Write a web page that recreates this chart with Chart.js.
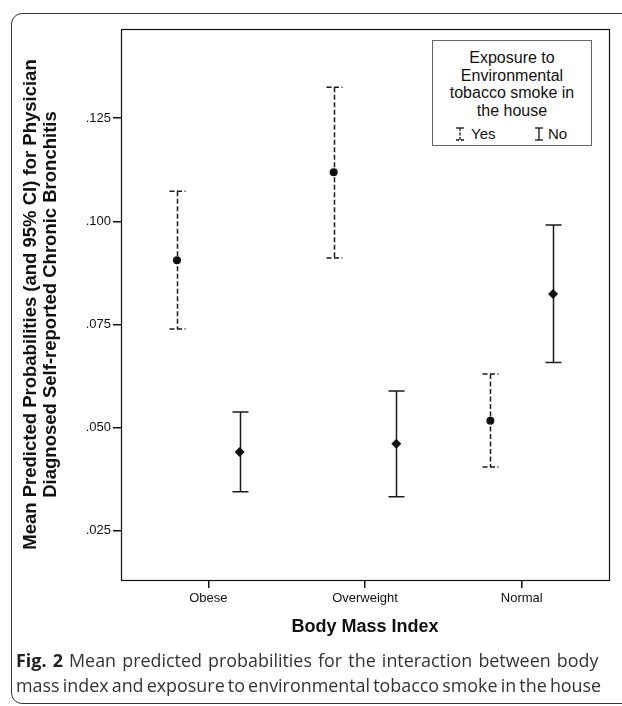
<!DOCTYPE html>
<html><head><meta charset="utf-8">
<script src="https://cdn.jsdelivr.net/npm/chart.js@4.4.1/dist/chart.umd.min.js"></script>
<style>
html,body{margin:0;padding:0;background:#fff;width:622px;height:706px;overflow:hidden;}
#frame{position:absolute;left:11px;top:13px;width:650px;height:691px;border:1.5px solid #333;border-radius:11px;box-sizing:border-box;}
#wrap{position:absolute;left:0;top:0;width:622px;height:650px;}
#legend{position:absolute;left:432px;top:40px;width:160px;height:106px;border:1px solid #666;box-sizing:border-box;background:#fff;font-family:"Liberation Sans",Arial,sans-serif;color:#111;}
#legend .t{text-align:center;font-size:16px;line-height:17.7px;padding-top:8px;}
#legend .item{position:absolute;top:84px;height:18px;line-height:18px;font-size:15px;}
#legend svg{position:absolute;top:2px;}
#caption{position:absolute;left:16px;top:648px;width:620px;font-family:"Open Sans",sans-serif;font-size:17.9px;line-height:25px;color:#333;white-space:nowrap;}
#caption b{color:#222;}
#caption .l1{display:block;word-spacing:1.5px;}
#caption .l2{display:block;word-spacing:-1.5px;}
</style></head>
<body>
<div id="frame"></div>
<div id="wrap"><canvas id="c" width="622" height="650"></canvas></div>
<div id="legend">
  <div class="t">Exposure to<br>Environmental<br>tobacco smoke in<br>the house</div>
  <div class="item" style="left:21px;"><svg width="12" height="14"><line x1="6" y1="1" x2="6" y2="13" stroke="#111" stroke-width="1.3" stroke-dasharray="3,1.5"/><line x1="2" y1="1" x2="10" y2="1" stroke="#111" stroke-width="1.3"/><line x1="2" y1="13" x2="10" y2="13" stroke="#111" stroke-width="1.3" stroke-dasharray="3,2"/></svg><span style="margin-left:17px;">Yes</span></div>
  <div class="item" style="left:100px;"><svg width="12" height="14"><line x1="6" y1="1" x2="6" y2="13" stroke="#111" stroke-width="1.3"/><line x1="2" y1="1" x2="10" y2="1" stroke="#111" stroke-width="1.3"/><line x1="2" y1="13" x2="10" y2="13" stroke="#111" stroke-width="1.3"/></svg><span style="margin-left:15px;">No</span></div>
</div>
<div id="caption"><span class="l1"><b>Fig. 2</b> Mean predicted probabilities for the interaction between body</span><span class="l2">mass index and exposure to environmental tobacco smoke in the house</span></div>
<script>
const categories = ['Obese', 'Overweight', 'Normal'];
const yesMean  = [0.0906, 0.1119, 0.0517];
const yesLower = [0.0739, 0.0911, 0.0405];
const yesUpper = [0.1073, 0.1325, 0.0630];
const noMean   = [0.0441, 0.0461, 0.0824];
const noLower  = [0.0345, 0.0333, 0.0658];
const noUpper  = [0.0538, 0.0589, 0.0991];
const yTickValues = [0.025, 0.050, 0.075, 0.100, 0.125];
const yTickLabels = ['.025', '.050', '.075', '.100', '.125'];

const OFFSET = 0.2;
const FONT = '"Liberation Sans", Arial, sans-serif';

const errorBars = {
  id: 'errorBars',
  beforeDatasetsDraw(chart) {
    const {ctx, scales: {x, y}} = chart;
    chart.data.datasets.forEach(ds => {
      ctx.save();
      ctx.strokeStyle = '#1a1a1a';
      ctx.lineWidth = 1.5;
      ctx.setLineDash(ds.dashed ? [5, 2.5] : []);
      ds.data.forEach((p, i) => {
        const px = Math.round(x.getPixelForValue(p.x)) + 0.5;
        const yl = y.getPixelForValue(ds.lower[i]);
        const yu = y.getPixelForValue(ds.upper[i]);
        ctx.beginPath(); ctx.moveTo(px, yu); ctx.lineTo(px, yl); ctx.stroke();
        ctx.beginPath();
        ctx.moveTo(px - 8, yu); ctx.lineTo(px + 8, yu);
        ctx.moveTo(px - 8, yl); ctx.lineTo(px + 8, yl);
        ctx.stroke();
      });
      ctx.restore();
    });
  }
};
const frame = {
  id: 'frame',
  afterDraw(chart) {
    const {ctx, chartArea: a} = chart;
    ctx.save();
    ctx.strokeStyle = '#111';
    ctx.lineWidth = 1.2;
    ctx.strokeRect(a.left + 0.5, a.top + 0.5, a.right - a.left, a.bottom - a.top);
    ctx.restore();
  }
};

new Chart(document.getElementById('c'), {
  type: 'scatter',
  data: {
    datasets: [
      { label: 'Yes', dashed: true, lower: yesLower, upper: yesUpper,
        data: yesMean.map((v, i) => ({x: i - OFFSET, y: v})),
        pointStyle: 'circle', pointRadius: 4, backgroundColor: '#111', borderColor: '#111', borderWidth: 0 },
      { label: 'No', dashed: false, lower: noLower, upper: noUpper,
        data: noMean.map((v, i) => ({x: i + OFFSET, y: v})),
        pointStyle: 'rectRot', pointRadius: 5, backgroundColor: '#111', borderColor: '#111', borderWidth: 0 }
    ]
  },
  options: {
    responsive: false, animation: false, devicePixelRatio: 1,
    layout: { padding: { left: 0, right: 13, top: 29, bottom: 0 } },
    plugins: { legend: { display: false }, tooltip: { enabled: false } },
    scales: {
      x: {
        type: 'linear', min: -0.557, max: 2.557,
        afterBuildTicks: s => { s.ticks = categories.map((c, i) => ({value: i})); },
        afterFit: s => { s.height = 70; },
        grid: { drawOnChartArea: false, drawTicks: true, tickLength: 8, color: '#111', lineWidth: 1.5 },
        border: { display: true, color: '#111', width: 1 },
        ticks: { callback: (v, i) => categories[i], font: { family: FONT, size: 13 }, color: '#111', padding: 3, maxRotation: 0, autoSkip: false },
        title: { display: true, text: 'Body Mass Index', color: '#111', font: { family: FONT, size: 18, weight: 'bold' }, padding: { top: 0, bottom: 12 } }
      },
      y: {
        type: 'linear', min: 0.0131, max: 0.1466,
        afterBuildTicks: s => { s.ticks = yTickValues.map(v => ({value: v})); },
        afterFit: s => { s.width = 121; },
        grid: { drawOnChartArea: false, drawTicks: true, tickLength: 8, color: '#111', lineWidth: 1.5 },
        border: { display: true, color: '#111', width: 1 },
        ticks: { callback: (v, i) => yTickLabels[i], font: { family: FONT, size: 13 }, color: '#111', padding: 2, autoSkip: false },
        title: { display: true, text: ['Mean Predicted Probabilities (and 95% CI) for Physician', 'Diagnosed Self-reported Chronic Bronchitis'],
          color: '#111', font: { family: FONT, size: 18.5, weight: 'bold', lineHeight: 1.08 }, padding: { top: 21, bottom: 0 } }
      }
    }
  },
  plugins: [errorBars, frame]
});
</script>
</body></html>
